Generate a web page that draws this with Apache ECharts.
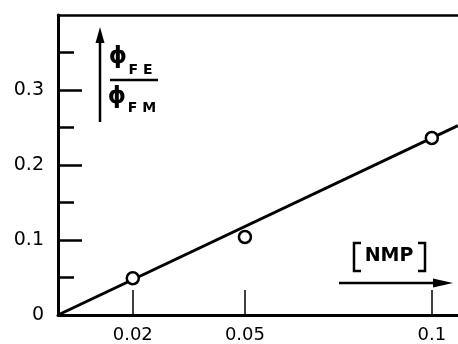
<!DOCTYPE html>
<html>
<head>
<meta charset="utf-8">
<script src="https://cdn.jsdelivr.net/npm/echarts@6/dist/echarts.min.js"></script>
<style>
html,body{margin:0;padding:0;background:#fff;}
#c{width:458px;height:344px;}
</style>
</head>
<body>
<div id="c"></div>
<script>
// Data
var nmp = [0.02, 0.05, 0.1];
var ratio = [0.049, 0.104, 0.236];
var fitX = [0, 0.107];
var fitY = [0, 0.2525];
var xTickValues = [0.02, 0.05, 0.1];
var yLabelValues = [0, 0.1, 0.2, 0.3];

var chart = echarts.init(document.getElementById('c'), null, {renderer: 'canvas'});
var font = 'DejaVu Sans';
var black = '#000';

var pts = nmp.map(function (x, i) { return [x, ratio[i]]; });
var fit = fitX.map(function (x, i) { return [x, fitY[i]]; });

function txt(s, cx, cy, size, weight) {
  return {type: 'text', z: 10, style: {text: s, x: cx, y: cy, fontSize: size, fontWeight: weight || 'bold',
    fontFamily: font, fill: black, align: 'center', verticalAlign: 'middle'}};
}

chart.setOption({
  animation: false,
  backgroundColor: '#fff',
  grid: {left: 58, top: 15, right: 0, bottom: 29, containLabel: false},
  xAxis: [{
    type: 'value', min: 0, max: 0.107, position: 'bottom',
    axisLine: {show: true, onZero: false, lineStyle: {color: black, width: 3}},
    axisTick: {show: true, inside: true, length: 25, customValues: xTickValues, lineStyle: {color: black, width: 1.5}},
    axisLabel: {show: true, customValues: xTickValues, margin: 11, color: black, fontFamily: font, fontSize: 18,
      formatter: function (v) { return String(v); }},
    splitLine: {show: false}
  }, {
    type: 'value', min: 0, max: 0.107, position: 'top',
    axisLine: {show: true, onZero: false, lineStyle: {color: black, width: 2.5}},
    axisTick: {show: false}, axisLabel: {show: false}, splitLine: {show: false}
  }],
  yAxis: [{
    type: 'value', min: 0, max: 0.4, interval: 0.1,
    axisLine: {show: true, onZero: false, lineStyle: {color: black, width: 3}},
    axisTick: {show: true, inside: true, length: 24, customValues: [0.1, 0.2, 0.3], lineStyle: {color: black, width: 2.5}},
    minorTick: {show: true, splitNumber: 2, length: 16, lineStyle: {color: black, width: 2.5}},
    axisLabel: {show: true, customValues: yLabelValues, margin: 14, color: black, fontFamily: font, fontSize: 19,
      formatter: function (v) { return v === 0 ? '0' : String(v); }},
    splitLine: {show: false}, minorSplitLine: {show: false}
  }],
  series: [{
    type: 'line', data: fit, symbol: 'none', z: 2,
    lineStyle: {color: black, width: 3}
  }, {
    type: 'scatter', data: pts, symbol: 'circle', symbolSize: 12, z: 3,
    itemStyle: {color: '#fff', opacity: 1, borderColor: black, borderWidth: 2.5}
  }],
  graphic: [
    // vertical arrow
    {type: 'line', z: 10, shape: {x1: 100, y1: 122, x2: 100, y2: 40}, style: {stroke: black, lineWidth: 2.5}},
    {type: 'polygon', z: 10, shape: {points: [[100, 27], [95.5, 43], [104.5, 43]]}, style: {fill: black}},
    txt('ϕ', 118, 57, 23),
    txt('F E', 140.5, 70, 14),
    {type: 'line', z: 10, shape: {x1: 110, y1: 80, x2: 158, y2: 80}, style: {stroke: black, lineWidth: 2.5}},
    txt('ϕ', 117, 97, 23),
    txt('F M', 142, 108, 14),
    // [NMP] arrow
    {type: 'polyline', z: 10, shape: {points: [[361, 243], [354, 243], [354, 271], [361, 271]]}, style: {stroke: black, lineWidth: 2.5, fill: null}},
    txt('NMP', 389, 256, 19),
    {type: 'polyline', z: 10, shape: {points: [[418, 243], [425, 243], [425, 271], [418, 271]]}, style: {stroke: black, lineWidth: 2.5, fill: null}},
    {type: 'line', z: 10, shape: {x1: 339, y1: 283, x2: 438, y2: 283}, style: {stroke: black, lineWidth: 2.5}},
    {type: 'polygon', z: 10, shape: {points: [[453, 283], [433, 278.5], [433, 287.5]]}, style: {fill: black}}
  ]
});
</script>
</body>
</html>
